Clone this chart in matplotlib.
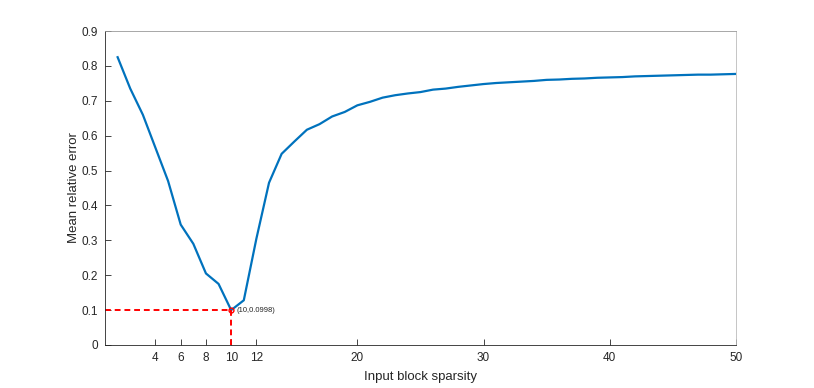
import matplotlib
matplotlib.use("Agg")
import matplotlib.pyplot as plt

plt.rcParams['font.family'] = ['Liberation Sans', 'DejaVu Sans']

sparsity = list(range(1, 51))
mean_rel_error = [
    0.825, 0.735, 0.660, 0.565, 0.470, 0.345, 0.290, 0.205, 0.175, 0.0998,
    0.128, 0.305, 0.465, 0.548, 0.583, 0.617, 0.633, 0.655, 0.668, 0.687,
    0.697, 0.709, 0.716, 0.721, 0.725, 0.732, 0.735, 0.740, 0.744, 0.748,
    0.751, 0.753, 0.755, 0.757, 0.760, 0.761, 0.763, 0.764, 0.766, 0.767,
    0.768, 0.770, 0.771, 0.772, 0.773, 0.774, 0.775, 0.775, 0.776, 0.777,
]
min_x = 10
min_y = 0.0998
xticks = [4, 6, 8, 10, 12, 20, 30, 40, 50]
yticks = [0, 0.1, 0.2, 0.3, 0.4, 0.5, 0.6, 0.7, 0.8, 0.9]
ytick_labels = ['0', '0.1', '0.2', '0.3', '0.4', '0.5', '0.6', '0.7', '0.8', '0.9']

fig = plt.figure(figsize=(8.14, 3.88), dpi=100)
ax = fig.add_axes([0.129, 0.111, 0.775, 0.809])

ax.plot(sparsity, mean_rel_error, color='#0072BD', linewidth=1.6)
ax.plot([0, min_x], [min_y, min_y], color='#FF0000', linestyle=(0, (3, 2)), linewidth=1.4)
ax.plot([min_x, min_x], [0, min_y], color='#FF0000', linestyle=(0, (3, 2)), linewidth=1.4)
ax.plot([min_x], [min_y], marker='o', markersize=3.5, markerfacecolor='none',
        markeredgecolor='#FF0000', linestyle='none')
ax.annotate('(10,0.0998)', xy=(min_x, min_y), xytext=(4, 0), textcoords='offset points',
            fontsize=5.5, va='center', ha='left', color='#262626')

ax.set_xlim(0, 50)
ax.set_ylim(0, 0.9)
ax.set_xticks(xticks)
ax.set_yticks(yticks)
ax.set_yticklabels(ytick_labels)
ax.tick_params(direction='in', length=4, width=0.6, labelsize=8.5, colors='#262626', pad=5)
for s in ax.spines.values():
    s.set_color('#262626')
    s.set_linewidth(0.6)
ax.spines['top'].set_color('#999999')
ax.spines['right'].set_color('#bbbbbb')
ax.set_xlabel('Input block sparsity', fontsize=9.5, color='#262626', labelpad=5)
ax.set_ylabel('Mean relative error', fontsize=9.5, color='#262626', labelpad=1)

fig.savefig('out.png', dpi=100)
